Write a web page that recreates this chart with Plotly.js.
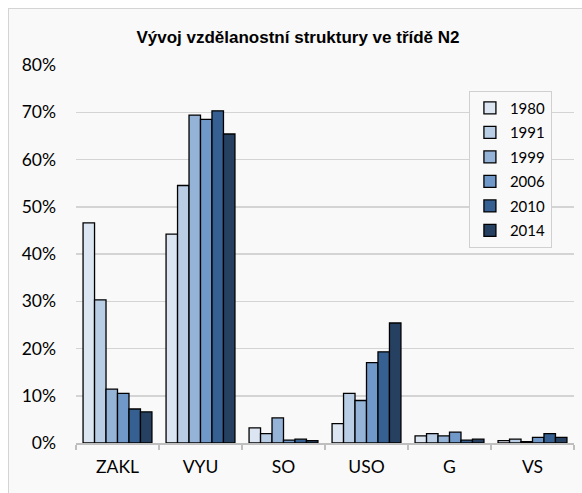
<!DOCTYPE html>
<html>
<head>
<meta charset="utf-8">
<script src="https://cdn.plot.ly/plotly-3.0.1.min.js"></script>
<style>
  html, body { margin: 0; padding: 0; background: #ffffff; }
  #frame { position: absolute; left: 8px; top: 8px; width: 640px; height: 560px;
           background: #f9f9f9; border: 1px solid #d4d4d4; }
  #chart { position: absolute; left: 0; top: 0; width: 582px; height: 493px; }
</style>
</head>
<body>
<div id="frame"></div>
<div id="chart"></div>
<script>
const categories = ["ZAKL", "VYU", "SO", "USO", "G", "VS"];
const years = ["1980", "1991", "1999", "2006", "2010", "2014"];
const v1980 = [46.6, 44.2, 3.2, 4.1, 1.5, 0.5];
const v1991 = [30.3, 54.5, 2.0, 10.5, 2.0, 0.8];
const v1999 = [11.4, 69.4, 5.3, 9.0, 1.5, 0.3];
const v2006 = [10.5, 68.5, 0.6, 17.0, 2.3, 1.2];
const v2010 = [7.2, 70.3, 0.8, 19.3, 0.6, 2.0];
const v2014 = [6.6, 65.4, 0.5, 25.4, 0.8, 1.2];
const series = [v1980, v1991, v1999, v2006, v2010, v2014];
const colors = ["#dce6f2", "#b9cde5", "#95b3d7", "#7099c9", "#376092", "#254061"];

const traces = series.map((vals, i) => ({
  type: "bar",
  name: years[i],
  x: categories,
  y: vals,
  legendgroup: years[i],
  marker: { color: colors[i], line: { color: "#000000", width: 1.3 } },
  hoverinfo: "skip"
}));

const layout = {
  width: 582, height: 493,
  paper_bgcolor: "rgba(0,0,0,0)",
  plot_bgcolor: "rgba(0,0,0,0)",
  margin: { l: 76, r: 8, t: 65, b: 50 },
  barmode: "group",
  bargap: 0.17,
  bargroupgap: 0,
  font: { family: "Lato, 'Open Sans', sans-serif", color: "#000000" },
  title: {
    text: "<b>Vývoj vzdělanostní struktury ve třídě N2</b>",
    font: { family: "'Liberation Sans', Arial, sans-serif", size: 17, color: "#000000" },
    x: 0.512, xanchor: "center", y: 0.925, yanchor: "middle"
  },
  xaxis: {
    showline: true, linecolor: "#bfbfbf", linewidth: 1.5,
    ticks: "outside", tickson: "boundaries", ticklen: 5, tickcolor: "#bfbfbf", tickwidth: 1.5,
    tickfont: { size: 17.5 },
    ticklabelstandoff: 7
  },
  yaxis: {
    range: [0, 80], dtick: 10, ticksuffix: "%",
    showgrid: true, gridcolor: "#d4d4d4", gridwidth: 1.5,
    zeroline: false, showline: false, ticks: "",
    tickfont: { size: 17.5 },
    ticklabelstandoff: 19
  },
  legend: {
    x: 0.789, xanchor: "left", y: 0.932, yanchor: "top",
    bgcolor: "#f9f9f9", bordercolor: "#d0d0d0", borderwidth: 1,
    font: { size: 15 },
    traceorder: "grouped", tracegroupgap: 2,
    itemwidth: 30
  },
  showlegend: true
};

Plotly.newPlot("chart", traces, layout, { displayModeBar: false, staticPlot: true });
</script>
</body>
</html>
